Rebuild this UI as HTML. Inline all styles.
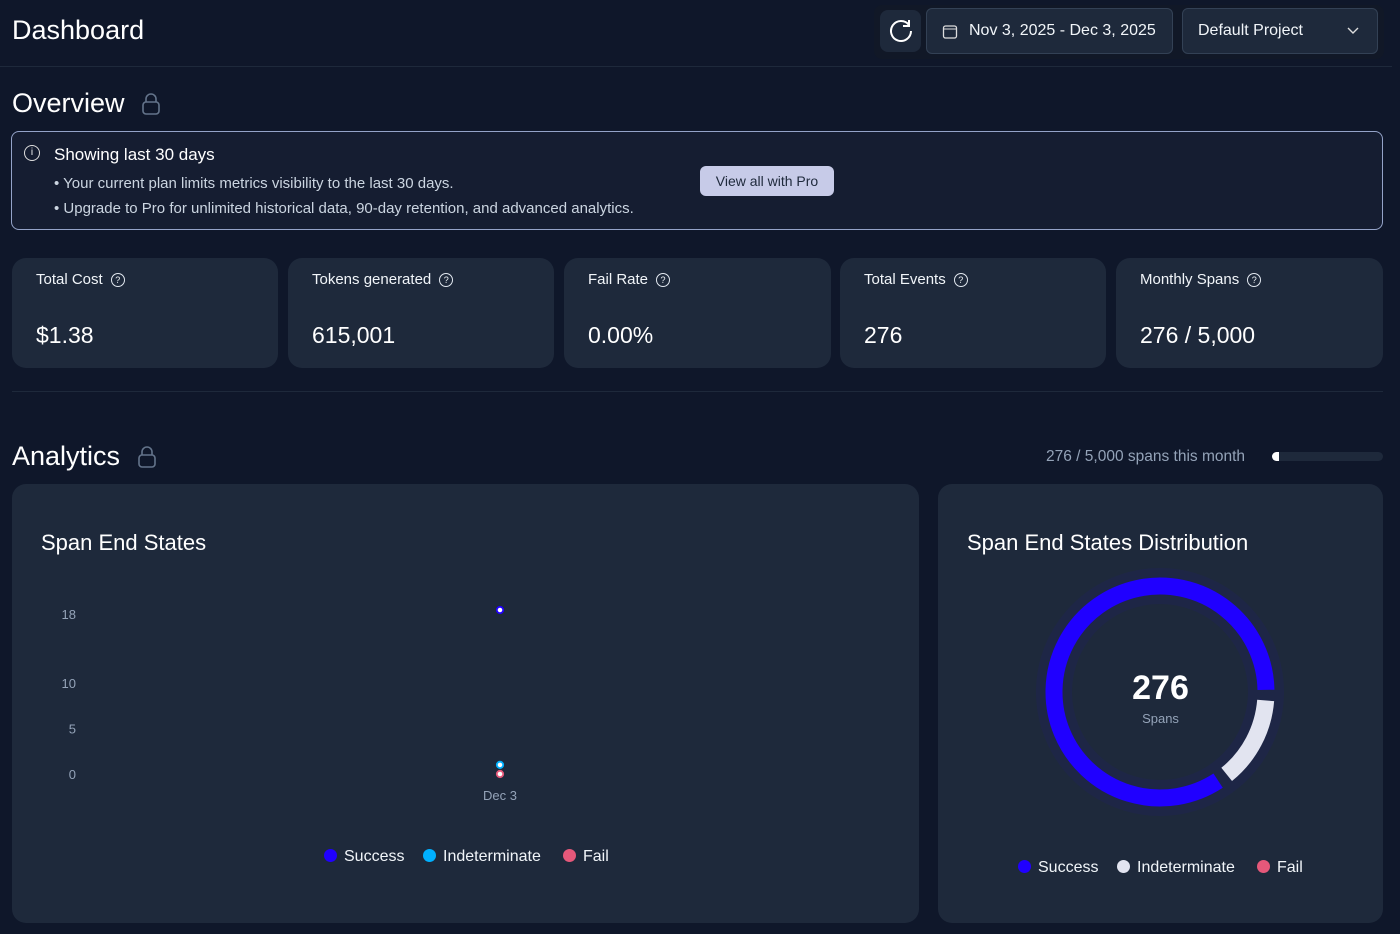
<!DOCTYPE html>
<html><head><meta charset="utf-8"><style>
*{box-sizing:border-box;margin:0;padding:0}
body{width:1400px;height:934px;overflow:hidden;background:#0f172a;font-family:"Liberation Sans",sans-serif;color:#fff;position:relative}
.abs{position:absolute}
.card{position:absolute;background:#1e293b;border-radius:14px}
.stat .lbl{position:absolute;left:24px;top:13px;font-size:15px;color:#f1f5f9}
.stat .val{position:absolute;left:24px;top:64px;font-size:23px;color:#fff}
.q{display:inline-block;width:14px;height:14px;border:1.3px solid #e2e8f0;border-radius:50%;font-size:9px;text-align:center;line-height:12px;margin-left:8px;vertical-align:1px}
.btn{position:absolute;background:#1e293b;border:1px solid #334155;border-radius:6px;font-size:16px;color:#f1f5f9}
.leg{font-size:16px;color:#f1f5f9;position:absolute}
.dot{display:inline-block;width:13px;height:13px;border-radius:50%;vertical-align:-1px;margin-right:7px}
</style></head><body>
<div class="abs" style="left:12px;top:15px;font-size:27px">Dashboard</div>
<div class="abs" style="left:874px;top:5px;width:510px;height:54px;background:#111827;border-radius:8px"></div>
<div class="abs" style="left:880px;top:10px;width:41px;height:42px;background:#1e293b;border-radius:8px">
<svg width="41" height="42"><path d="M29 15 A10 10 0 1 0 31 21" stroke="#fff" stroke-width="2" fill="none"/><path d="M29 10 V16 H23" stroke="#fff" stroke-width="2" fill="none"/></svg></div>
<div class="btn" style="left:926px;top:8px;width:247px;height:46px;padding:13px 0 0 42px">Nov 3, 2025 - Dec 3, 2025
<svg class="abs" style="left:15px;top:15px" width="16" height="16"><rect x="1.5" y="2" width="13" height="12" rx="2" stroke="#ddd" fill="none" stroke-width="1.3"/><line x1="2" y1="5" x2="14" y2="5" stroke="#ddd"/></svg></div>
<div class="btn" style="left:1182px;top:8px;width:196px;height:46px;padding:13px 0 0 15px">Default Project<svg class="abs" style="right:18px;top:18px" width="12" height="8"><path d="M1 1 L6 6 L11 1" stroke="#ddd" stroke-width="1.4" fill="none"/></svg></div>
<div class="abs" style="left:0;top:66px;width:1392px;height:1px;background:#1e293b"></div>
<div class="abs" style="left:12px;top:88px;font-size:27px">Overview</div>
<svg class="abs" style="left:141px;top:92px" width="20" height="24"><path d="M5 10 V7 A5 5 0 0 1 15 7 V10" stroke="#64748b" stroke-width="1.6" fill="none"/><rect x="2" y="10" width="16" height="12" rx="3" stroke="#64748b" stroke-width="1.6" fill="none"/></svg>
<div class="abs" style="left:11px;top:131px;width:1372px;height:99px;border:1px solid #94a3c8;border-radius:8px;background:#151d31">
<div class="abs" style="left:12px;top:13px;width:16px;height:16px;border:1.3px solid #ddd;border-radius:50%;font-size:10px;text-align:center;line-height:14px">i</div>
<div class="abs" style="left:42px;top:13px;font-size:17px">Showing last 30 days</div>
<div class="abs" style="left:42px;top:39px;font-size:15px;color:#cbd5e1;line-height:25px">• Your current plan limits metrics visibility to the last 30 days.<br>• Upgrade to Pro for unlimited historical data, 90-day retention, and advanced analytics.</div>
<div class="abs" style="left:688px;top:34px;width:134px;height:30px;background:#c7cbe8;border-radius:6px;color:#1e293b;font-size:14px;text-align:center;line-height:30px">View all with Pro</div>
</div>
<div class="card stat" style="left:12px;top:258px;width:266px;height:110px"><div class="lbl">Total Cost<span class="q">?</span></div><div class="val">$1.38</div></div>
<div class="card stat" style="left:288px;top:258px;width:266px;height:110px"><div class="lbl">Tokens generated<span class="q">?</span></div><div class="val">615,001</div></div>
<div class="card stat" style="left:564px;top:258px;width:267px;height:110px"><div class="lbl">Fail Rate<span class="q">?</span></div><div class="val">0.00%</div></div>
<div class="card stat" style="left:840px;top:258px;width:266px;height:110px"><div class="lbl">Total Events<span class="q">?</span></div><div class="val">276</div></div>
<div class="card stat" style="left:1116px;top:258px;width:267px;height:110px"><div class="lbl">Monthly Spans<span class="q">?</span></div><div class="val">276 / 5,000</div></div>
<div class="abs" style="left:12px;top:391px;width:1371px;height:1px;background:#1e293b"></div>
<div class="abs" style="left:12px;top:441px;font-size:27px">Analytics</div>
<svg class="abs" style="left:137px;top:445px" width="20" height="24"><path d="M5 10 V7 A5 5 0 0 1 15 7 V10" stroke="#64748b" stroke-width="1.6" fill="none"/><rect x="2" y="10" width="16" height="12" rx="3" stroke="#64748b" stroke-width="1.6" fill="none"/></svg>
<div class="abs" style="left:1046px;top:448px;font-size:15.5px;color:#94a3b8">276 / 5,000 spans this month</div>
<div class="abs" style="left:1272px;top:452px;width:111px;height:9px;background:#1e293b;border-radius:5px"><div style="width:7px;height:9px;background:#fff;border-radius:5px 0 0 5px"></div></div>
<div class="card" style="left:12px;top:484px;width:907px;height:439px">
<div class="abs" style="left:29px;top:46px;font-size:22px">Span End States</div>
<svg id="sc" class="abs" style="left:0;top:0" width="907" height="439"></svg>
<div class="leg" style="left:312px;top:364px"><span class="dot" style="background:#2000ff"></span>Success</div>
<div class="leg" style="left:411px;top:364px"><span class="dot" style="background:#00b0ff"></span>Indeterminate</div>
<div class="leg" style="left:551px;top:364px"><span class="dot" style="background:#e5587a"></span>Fail</div>
</div>
<div class="card" style="left:938px;top:484px;width:445px;height:439px">
<div class="abs" style="left:29px;top:46px;font-size:22px">Span End States Distribution</div>
<svg id="dn" class="abs" style="left:0;top:0" width="445" height="439"></svg>
<div class="abs" style="left:0;width:445px;text-align:center;top:185px;font-size:34px;font-weight:bold">276</div>
<div class="abs" style="left:0;width:445px;text-align:center;top:227px;font-size:13px;color:#94a3b8">Spans</div>
<div class="leg" style="left:80px;top:375px"><span class="dot" style="background:#2000ff"></span>Success</div>
<div class="leg" style="left:179px;top:375px"><span class="dot" style="background:#e2e4f0"></span>Indeterminate</div>
<div class="leg" style="left:319px;top:375px"><span class="dot" style="background:#e5587a"></span>Fail</div>
</div>
<script>
const categories=["Dec 3"];
const successVals=[18];
const indeterminateVals=[1];
const failVals=[0];
const yTicks=[0,5,10,18];
const donutLabels=["Indeterminate","Success","Fail"];
const donutVals=[40,236,0];
const NS="http://www.w3.org/2000/svg";
function mk(t,a){const e=document.createElementNS(NS,t);for(const k in a)e.setAttribute(k,a[k]);return e;}
const sc=document.getElementById('sc');
const y=v=>290-v*(164/18);
const x=i=>488+i*60;
yTicks.forEach(t=>{const e=mk('text',{x:64,y:(t===18?y(t)+4:y(t))+5,'text-anchor':'end','font-size':13,fill:'#94a3b8','font-family':'Liberation Sans'});e.textContent=t;


sc.appendChild(e);});
categories.forEach((c,i)=>{const e=mk('text',{x:x(i),y:316,'text-anchor':'middle','font-size':13,fill:'#94a3b8','font-family':'Liberation Sans'});e.textContent=c;


sc.appendChild(e);});
[[successVals,'#2000ff','point-success'],[indeterminateVals,'#00b0ff','point-indeterminate'],[failVals,'#e5587a','point-fail']].forEach(([arr,col,nm])=>{arr.forEach((v,i)=>{const c=mk('circle',{cx:x(i),cy:y(v),r:3.2,fill:'#fff',stroke:col,'stroke-width':1.8});


sc.appendChild(c);});});
const dn=document.getElementById('dn');
const cx=222,cy=208,R=106,tot=donutVals.reduce((a,b)=>a+b,0);
const cols={Indeterminate:'#e2e4f0',Success:'#2000ff',Fail:'#e5587a'};
dn.appendChild(mk('circle',{cx,cy,r:R,fill:'none',stroke:'#2000ff','stroke-opacity':0.06,'stroke-width':36}));
let a0=0.08;
donutVals.forEach((v,i)=>{if(!v)return;const span=v/tot*2*Math.PI;const a1=a0+span-0.1;
const p=mk('path',{d:`M${cx+R*Math.cos(a0)} ${cy+R*Math.sin(a0)} A${R} ${R} 0 ${span>Math.PI?1:0} 1 ${cx+R*Math.cos(a1)} ${cy+R*Math.sin(a1)}`,fill:'none',stroke:cols[donutLabels[i]],'stroke-width':17});


dn.appendChild(p);a0+=span;});
</script>
</body></html>
